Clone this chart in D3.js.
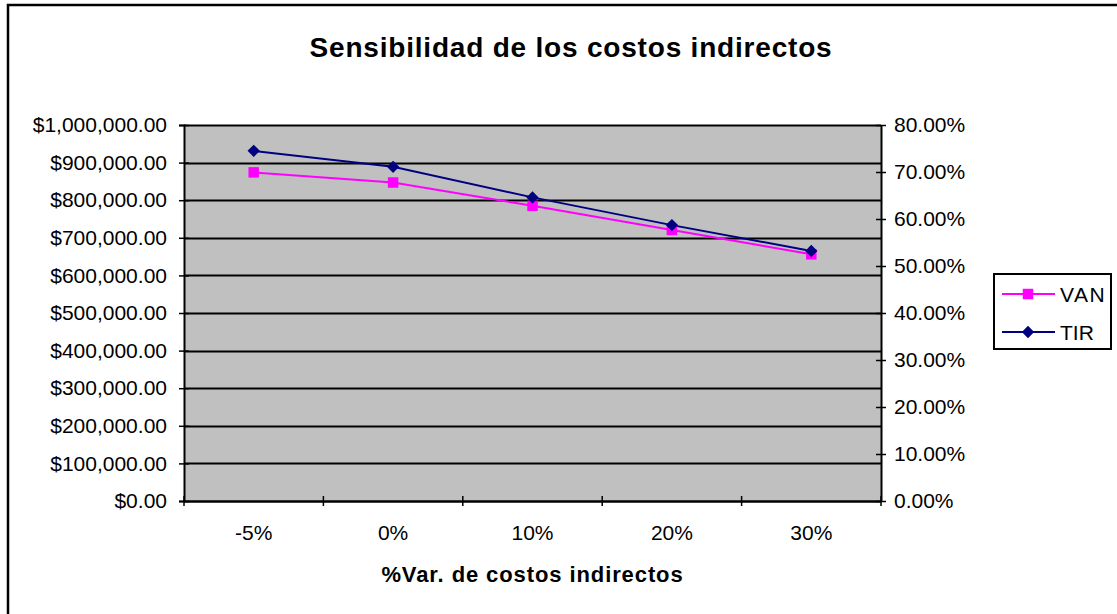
<!DOCTYPE html>
<html>
<head>
<meta charset="utf-8">
<script src="https://cdn.jsdelivr.net/npm/d3@7"></script>
<style>
  body { margin: 0; background: #fff; }
  svg { display: block; font-family: "Liberation Sans", Arial, sans-serif; }
</style>
</head>
<body>
<div id="root"></div>
<script>
"use strict";

var categories = ["-5%", "0%", "10%", "20%", "30%"];
var vanValues = [874000, 847000, 785000, 721000, 656000];
var tirValues = [0.745, 0.711, 0.646, 0.587, 0.532];
var vanTicks = [0, 100000, 200000, 300000, 400000, 500000, 600000, 700000, 800000, 900000, 1000000];
var tirTicks = [0, 0.1, 0.2, 0.3, 0.4, 0.5, 0.6, 0.7, 0.8];

var width = 1117, height = 614;
var plot = { left: 184, top: 125, right: 881, bottom: 501 };

var svg = d3.select("#root").append("svg")
    .attr("width", width)
    .attr("height", height);

// outer chart frame (right/bottom edges fall off the picture)
svg.append("rect")
    .attr("x", 8).attr("y", 5)
    .attr("width", 1200).attr("height", 700)
    .attr("fill", "none")
    .attr("stroke", "#000")
    .attr("stroke-width", 2.5);

var x = d3.scaleBand()
    .domain(categories)
    .range([plot.left, plot.right]);

var yLeft = d3.scaleLinear()
    .domain([0, 1000000])
    .range([plot.bottom, plot.top]);

var yRight = d3.scaleLinear()
    .domain([0, 0.8])
    .range([plot.bottom, plot.top]);

// plot background
svg.append("rect")
    .attr("x", plot.left).attr("y", plot.top)
    .attr("width", plot.right - plot.left)
    .attr("height", plot.bottom - plot.top)
    .attr("fill", "#c0c0c0");

// gridlines
svg.append("g").selectAll("line")
    .data(vanTicks)
    .enter().append("line")
    .attr("x1", plot.left).attr("x2", plot.right)
    .attr("y1", d => Math.round(yLeft(d)) + 0.5)
    .attr("y2", d => Math.round(yLeft(d)) + 0.5)
    .attr("stroke", "#000")
    .attr("stroke-width", 2);

var money = d3.format("$,.2f");
var pct = d3.format(".2%");

var leftAxis = svg.append("g")
    .attr("transform", "translate(" + plot.left + ",0)")
    .call(d3.axisLeft(yLeft).tickValues(vanTicks).tickFormat(money).tickSize(5).tickPadding(12));

var rightAxis = svg.append("g")
    .attr("transform", "translate(" + plot.right + ",0)")
    .call(d3.axisRight(yRight).tickValues(tirTicks).tickFormat(pct).tickSizeInner(5).tickSizeOuter(0).tickPadding(8));
rightAxis.selectAll(".tick line").attr("x1", -5);

var bottomAxis = svg.append("g")
    .attr("transform", "translate(0," + plot.bottom + ")")
    .call(d3.axisBottom(x).tickSize(0).tickPadding(24));
// category separator ticks
bottomAxis.selectAll(".sep")
    .data(d3.range(categories.length + 1))
    .enter().append("line")
    .attr("x1", i => plot.left + i * x.step())
    .attr("x2", i => plot.left + i * x.step())
    .attr("y1", -5).attr("y2", 5)
    .attr("stroke", "#000")
    .attr("stroke-width", 1.5);

[leftAxis, rightAxis, bottomAxis].forEach(function (g) {
    g.selectAll(".domain").attr("stroke", "#000").attr("stroke-width", 2);
    g.selectAll(".tick line").attr("stroke", "#000").attr("stroke-width", 1.5);
    g.selectAll("text").attr("fill", "#000")
        .style("font-size", "21px")
        .style("font-family", "'Liberation Sans', Arial, sans-serif");
});
leftAxis.selectAll(".tick line").attr("x2", 5).attr("x1", -5);

var cx = d => x(d) + x.bandwidth() / 2;

var vanLine = d3.line()
    .x((d, i) => cx(categories[i]))
    .y(d => yLeft(d));

var tirLine = d3.line()
    .x((d, i) => cx(categories[i]))
    .y(d => yRight(d));

svg.append("path")
    .datum(vanValues)
    .attr("d", vanLine)
    .attr("fill", "none")
    .attr("stroke", "#ff00ff")
    .attr("stroke-width", 2);

svg.append("path")
    .datum(tirValues)
    .attr("d", tirLine)
    .attr("fill", "none")
    .attr("stroke", "#000080")
    .attr("stroke-width", 2);

var square = d3.symbol().type(d3.symbolSquare).size(110);
var diamond = d3.symbol().type(d3.symbolSquare).size(76);

svg.append("g").selectAll("path")
    .data(vanValues)
    .enter().append("path")
    .attr("d", square)
    .attr("transform", (d, i) => "translate(" + cx(categories[i]) + "," + yLeft(d) + ")")
    .attr("fill", "#ff00ff");

svg.append("g").selectAll("path")
    .data(tirValues)
    .enter().append("path")
    .attr("d", diamond)
    .attr("transform", (d, i) => "translate(" + cx(categories[i]) + "," + yRight(d) + ") rotate(45)")
    .attr("fill", "#000080");

// titles
svg.append("text")
    .attr("x", 571).attr("y", 57)
    .attr("text-anchor", "middle")
    .style("font-size", "28px")
    .style("font-weight", "bold")
    .style("letter-spacing", "0.8px")
    .text("Sensibilidad de los costos indirectos");

svg.append("text")
    .attr("x", (plot.left + plot.right) / 2).attr("y", 582)
    .attr("text-anchor", "middle")
    .style("font-size", "22px")
    .style("font-weight", "bold")
    .style("letter-spacing", "0.9px")
    .text("%Var. de costos indirectos");

// legend
var legend = svg.append("g").attr("transform", "translate(994,274)");
legend.append("rect")
    .attr("width", 117).attr("height", 75)
    .attr("fill", "#fff")
    .attr("stroke", "#000")
    .attr("stroke-width", 2);

var legendItems = [
    { name: "VAN", color: "#ff00ff", sym: square, rot: 0, y: 20, spacing: "1.5px" },
    { name: "TIR", color: "#000080", sym: diamond, rot: 45, y: 58, spacing: "0px" }
];

var rows = legend.selectAll(".row")
    .data(legendItems)
    .enter().append("g")
    .attr("transform", d => "translate(0," + d.y + ")");

rows.append("line")
    .attr("x1", 8).attr("x2", 61)
    .attr("stroke", d => d.color)
    .attr("stroke-width", 2);

rows.append("path")
    .attr("d", d => d.sym())
    .attr("transform", d => "translate(34,0) rotate(" + d.rot + ")")
    .attr("fill", d => d.color);

rows.append("text")
    .attr("x", 66).attr("y", 7.5)
    .style("font-size", "21px")
    .style("letter-spacing", d => d.spacing)
    .text(d => d.name);
</script>
</body>
</html>
